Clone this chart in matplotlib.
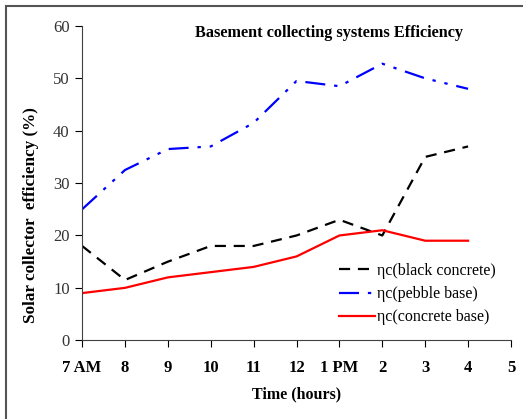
import matplotlib
matplotlib.use('Agg')
import matplotlib.pyplot as plt
from matplotlib.patches import Rectangle

plt.rcParams['font.family'] = ['Liberation Serif', 'DejaVu Serif']

# data
hours = list(range(10))
tick_labels = ['7 AM', '8', '9', '10', '11', '12', '1 PM', '2', '3', '4', '5']
black_concrete = [18, 11.5, 15, 18, 18, 20, 23, 20, 35, 37]
pebble_base = [25, 32.5, 36.5, 37, 41.5, 49.5, 48.5, 52.8, 50, 48]
concrete_base = [9, 10, 12, 13, 14, 16, 20, 21, 19, 19]

fig = plt.figure(figsize=(5.23, 4.19), dpi=100)
ax = fig.add_axes([0.157, 0.188, 0.82, 0.75])

ax.plot(hours, black_concrete, color='black', linestyle=(0, (5, 3.5)), linewidth=1.6,
        label='ηc(black concrete)')
ax.plot(hours, pebble_base, color='blue', linestyle=(0, (9, 4, 1.5, 4, 1.5, 4)), linewidth=1.6,
        label='ηc(pebble base)')
ax.plot(hours, concrete_base, color='red', linestyle='-', linewidth=1.6,
        label='ηc(concrete base)')

ax.set_xlim(0, 10)
ax.set_ylim(0, 60)
ax.set_xticks(range(len(tick_labels)))
ax.set_xticklabels(tick_labels, fontweight='bold', fontsize=12)
ax.set_yticks(range(0, 61, 10))
ax.tick_params(axis='y', labelsize=12, labelcolor='#333333', direction='out', length=5, pad=4)
ax.tick_params(axis='x', direction='out', length=5, pad=9)
ax.spines['top'].set_visible(False)
ax.spines['right'].set_visible(False)
ax.spines['left'].set_color('#404040')
ax.spines['bottom'].set_color('#404040')

ax.set_xlabel('Time (hours)', fontweight='bold', fontsize=11.5, labelpad=8)
ax.set_ylabel('Solar collector  efficiency (%)', fontweight='bold', fontsize=12.3)
ax.yaxis.set_label_coords(-0.101, 0.398)
ax.text(0.263, 0.978, 'Basement collecting systems Efficiency', transform=ax.transAxes,
        fontweight='bold', fontsize=11.7, va='center', ha='left')

ax.legend(loc='upper left', bbox_to_anchor=(0.6, 0.246), bbox_transform=ax.transAxes,
          frameon=False, fontsize=11.5, handlelength=2.2, handletextpad=0.15,
          labelspacing=0.45, borderaxespad=0.0, borderpad=0.0)

fig.patches.append(Rectangle((0.0115, -0.01), 0.995, 0.996, transform=fig.transFigure,
                             fill=False, edgecolor='#555555', linewidth=1.5))

fig.savefig('out.png', dpi=100)
